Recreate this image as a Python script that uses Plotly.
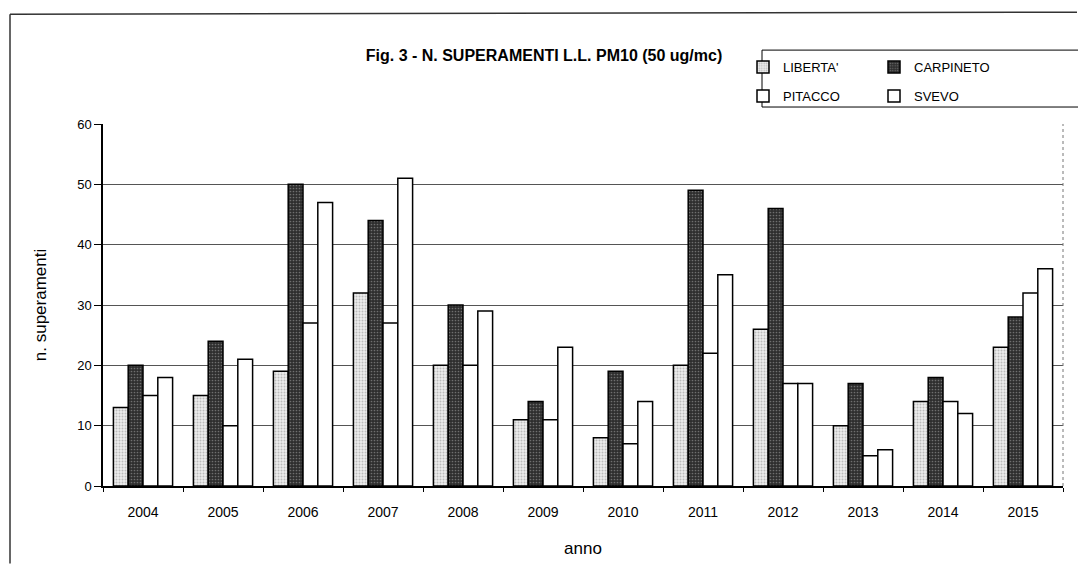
import plotly.graph_objects as go

anni = ["2004", "2005", "2006", "2007", "2008", "2009", "2010", "2011", "2012", "2013", "2014", "2015"]
liberta = [13, 15, 19, 32, 20, 11, 8, 20, 26, 10, 14, 23]
carpineto = [20, 24, 50, 44, 30, 14, 19, 49, 46, 17, 18, 28]
pitacco = [15, 10, 27, 27, 20, 11, 7, 22, 17, 5, 14, 32]
svevo = [18, 21, 47, 51, 29, 23, 14, 35, 17, 6, 12, 36]

FONT = "Liberation Sans, Arial, sans-serif"

# The page body has an 8px margin; size the figure so the page fits the window exactly.
OFF = 8
W, H = 1086 - 2 * OFF, 572 - 2 * OFF
# plot area in screen pixels of the reference
L, R, T, B = 103 - OFF, 1063 - OFF, 124 - OFF, 486.5 - OFF
pw, ph = R - L, B - T


def px_x(x):
    return (x - OFF - L) / pw


def px_y(y):
    return (B - (y - OFF)) / ph


line = dict(color="black", width=1.5)

fig = go.Figure()
fig.add_trace(go.Bar(
    x=anni, y=liberta, name="LIBERTA'", legend="legend",
    marker=dict(color="#e4e4e4", line=line,
                pattern=dict(shape=".", fgcolor="#8a8a8a", bgcolor="#ececec", size=3, solidity=0.35)),
))
fig.add_trace(go.Bar(
    x=anni, y=carpineto, name="CARPINETO", legend="legend",
    marker=dict(color="#3a3a3a", line=line,
                pattern=dict(shape=".", fgcolor="#b0b0b0", bgcolor="#2e2e2e", size=3, solidity=0.25)),
))
fig.add_trace(go.Bar(
    x=anni, y=pitacco, name="PITACCO", legend="legend2",
    marker=dict(color="white", line=line),
))
fig.add_trace(go.Bar(
    x=anni, y=svevo, name="SVEVO", legend="legend2",
    marker=dict(color="white", line=line),
))

legend_common = dict(
    orientation="h", xanchor="left", yanchor="middle",
    font=dict(family=FONT, size=13, color="black"),
    bgcolor="rgba(0,0,0,0)", borderwidth=0,
    entrywidth=86, entrywidthmode="pixels", itemwidth=30,
    traceorder="normal",
)

fig.update_layout(
    width=W, height=H,
    margin=dict(l=L, r=W - R, t=T, b=H - B, autoexpand=False),
    paper_bgcolor="white", plot_bgcolor="white",
    barmode="group", bargap=0.26, bargroupgap=0,
    font=dict(family=FONT, color="black"),
    title=dict(
        text="<b>Fig. 3 - N. SUPERAMENTI L.L. PM10 (50 ug/mc)</b>",
        x=(544 - OFF) / W, xanchor="center",
        y=1 - (55 - OFF) / H, yanchor="middle",
        font=dict(family=FONT, size=16, color="black"),
    ),
    showlegend=True,
    legend=dict(x=px_x(743), y=px_y(67), **legend_common),
    legend2=dict(x=px_x(743), y=px_y(96), **legend_common),
    xaxis=dict(
        type="category",
        showline=True, linecolor="black", linewidth=1.5,
        ticks="outside", ticklen=4, tickcolor="black", tickson="boundaries",
        tickfont=dict(family=FONT, size=14, color="black"),
        ticklabelstandoff=12,
        showgrid=False,
        title=dict(text="anno", font=dict(family=FONT, size=17, color="black"), standoff=24),
    ),
    yaxis=dict(
        range=[0, 60], dtick=10,
        showline=True, linecolor="black", linewidth=1.5,
        ticks="outside", ticklen=7, tickcolor="black",
        tickfont=dict(family=FONT, size=13, color="black"),
        showgrid=True, gridcolor="#555555", gridwidth=1,
        zeroline=False,
        title=dict(text="n. superamenti", font=dict(family=FONT, size=17, color="black"), standoff=26),
    ),
    shapes=[
        # legend box
        dict(type="rect", xref="paper", yref="paper",
             x0=px_x(762), x1=px_x(1080), y0=px_y(107), y1=px_y(50),
             line=dict(color="black", width=1), fillcolor="rgba(0,0,0,0)"),
        # chart-area frame (left and top)
        dict(type="line", xref="paper", yref="paper",
             x0=px_x(10), x1=px_x(10), y0=px_y(14), y1=px_y(564),
             line=dict(color="#333333", width=1.5)),
        dict(type="line", xref="paper", yref="paper",
             x0=px_x(10), x1=px_x(1077), y0=px_y(14), y1=px_y(12),
             line=dict(color="#333333", width=1.5)),
        # plot-area right edge
        dict(type="line", xref="paper", yref="paper",
             x0=1, x1=1, y0=0, y1=1,
             line=dict(color="#777777", width=1, dash="dot")),
    ],
)

fig.write_html("out.html")
